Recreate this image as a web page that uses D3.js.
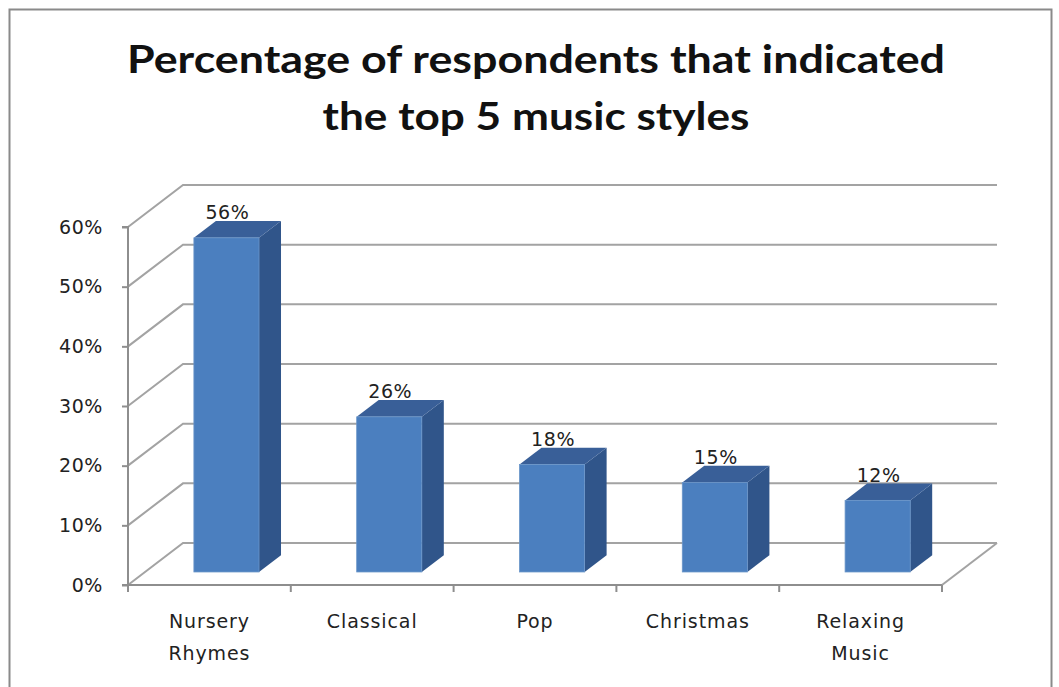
<!DOCTYPE html>
<html>
<head>
<meta charset="utf-8">
<script src="https://cdn.jsdelivr.net/npm/d3@7"></script>
<style>
  html, body { margin: 0; padding: 0; background: #fff; }
  svg { display: block; }
</style>
</head>
<body>
<svg id="chart" width="1059" height="687"></svg>
<script>
// Chart data
const titleLines = ["Percentage of respondents that indicated", "the top 5 music styles"];
const categories = ["Nursery\nRhymes", "Classical", "Pop", "Christmas", "Relaxing\nMusic"];
const values = [0.56, 0.26, 0.18, 0.15, 0.12];
const tickValues = [0, 0.1, 0.2, 0.3, 0.4, 0.5, 0.6];

const svg = d3.select("#chart");

// Plot geometry (front plane of the 3-D box)
const plotLeft = 128, plotRight = 942, plotBottom = 585, plotTop = 227;
const DX = 55, DY = -42;              // depth offset of the back wall
const barFront = 0.31, barBack = 0.71; // bar position inside the depth

const x = d3.scaleBand().domain(categories).range([plotLeft, plotRight])
  .paddingInner(0.6).paddingOuter(0.3);
const y = d3.scaleLinear().domain([0, 0.6]).range([plotBottom, plotTop]);
const pct = d3.format(".0%");

const gridColor = "#a3a3a3";
const axisColor = "#8e8e8e";
const textColor = "#222";

// Outer chart frame
svg.append("rect")
  .attr("x", 9.5).attr("y", 9.5).attr("width", 1042).attr("height", 700)
  .attr("fill", "#fff").attr("stroke", "#8a8a8a").attr("stroke-width", 2);

// Title
svg.append("g").selectAll("text").data(titleLines).join("text")
  .attr("x", 536)
  .attr("y", (d, i) => 73 + i * 57)
  .attr("text-anchor", "middle")
  .attr("font-family", "Lato, 'Open Sans', sans-serif")
  .attr("font-weight", "bold")
  .attr("font-size", 39)
  .attr("fill", "#111")
  .attr("textLength", (d, i) => i === 0 ? 818 : 427)
  .attr("lengthAdjust", "spacingAndGlyphs")
  .text(d => d);

// Back wall gridlines with their diagonals on the side wall
const grid = svg.append("g").attr("fill", "none").attr("stroke", gridColor).attr("stroke-width", 2);
grid.selectAll("path").data(tickValues).join("path")
  .attr("d", t => `M${plotLeft},${y(t)} L${plotLeft + DX},${y(t) + DY} L${plotRight + DX},${y(t) + DY}`);

// Floor right edge
grid.append("path")
  .attr("d", `M${plotRight},${plotBottom} L${plotRight + DX},${plotBottom + DY}`);

// Value axis
const yAxis = d3.axisLeft(y).tickValues(tickValues).tickFormat(pct)
  .tickSize(6).tickPadding(19);
const gy = svg.append("g").attr("transform", `translate(${plotLeft},0)`).call(yAxis);
gy.select(".domain").attr("stroke", axisColor).attr("stroke-width", 2)
  .attr("d", `M-6,${plotTop}H0V${plotBottom}H-6`);
gy.selectAll(".tick line").attr("stroke", axisColor).attr("stroke-width", 2);
gy.selectAll(".tick text")
  .attr("font-family", "'DejaVu Sans', sans-serif")
  .attr("font-size", 19)
  .attr("letter-spacing", 0.6)
  .attr("fill", textColor);

// Category axis: line along the floor front edge, ticks between categories
const boundaries = d3.range(categories.length + 1).map(i => plotLeft + i * x.step());
const gx = svg.append("g");
gx.append("line")
  .attr("x1", plotLeft).attr("x2", plotRight).attr("y1", plotBottom).attr("y2", plotBottom)
  .attr("stroke", axisColor).attr("stroke-width", 2);
gx.selectAll("line.tick").data(boundaries).join("line")
  .attr("class", "tick")
  .attr("x1", d => d).attr("x2", d => d)
  .attr("y1", plotBottom).attr("y2", plotBottom + 7)
  .attr("stroke", axisColor).attr("stroke-width", 2);

gx.selectAll("text").data(categories).join("text")
  .attr("x", d => x(d) + x.bandwidth() / 2)
  .attr("y", 628)
  .attr("text-anchor", "middle")
  .attr("font-family", "'DejaVu Sans', sans-serif")
  .attr("font-size", 19)
  .attr("letter-spacing", 0.9)
  .attr("fill", textColor)
  .each(function (d) {
    const lines = d.split("\n");
    d3.select(this).selectAll("tspan").data(lines).join("tspan")
      .attr("x", x(d) + x.bandwidth() / 2)
      .attr("dy", (l, i) => i === 0 ? 0 : 32)
      .text(l => l);
  });

// 3-D bars
const data = categories.map((c, i) => ({ c, v: values[i] }));
const fx = barFront * DX, fy = barFront * DY;
const depthX = (barBack - barFront) * DX, depthY = (barBack - barFront) * DY;
const bw = x.bandwidth();

const bars = svg.append("g").selectAll("g").data(data).join("g");

// side face
bars.append("path")
  .attr("fill", "#30558a")
  .attr("d", d => {
    const x1 = x(d.c) + fx + bw, y0 = y(0) + fy, y1 = y(d.v) + fy;
    return `M${x1},${y0} L${x1},${y1} L${x1 + depthX},${y1 + depthY} L${x1 + depthX},${y0 + depthY} Z`;
  });
// top face
bars.append("path")
  .attr("fill", "#395f98")
  .attr("d", d => {
    const x0 = x(d.c) + fx, y1 = y(d.v) + fy;
    return `M${x0},${y1} L${x0 + bw},${y1} L${x0 + bw + depthX},${y1 + depthY} L${x0 + depthX},${y1 + depthY} Z`;
  });
// front face
bars.append("rect")
  .attr("fill", "#4b7fbf")
  .attr("stroke", "#6a95c9").attr("stroke-width", 0.8)
  .attr("x", d => x(d.c) + fx)
  .attr("y", d => y(d.v) + fy)
  .attr("width", bw)
  .attr("height", d => y(0) - y(d.v));

// Value labels above the bars
svg.append("g").selectAll("text").data(data).join("text")
  .attr("x", d => x(d.c) + fx + bw / 2 + 1)
  .attr("y", d => y(d.v) + barBack * DY - 2)
  .attr("text-anchor", "middle")
  .attr("font-family", "'DejaVu Sans', sans-serif")
  .attr("font-size", 19)
  .attr("letter-spacing", 0.6)
  .attr("fill", textColor)
  .text(d => pct(d.v));
</script>
</body>
</html>
